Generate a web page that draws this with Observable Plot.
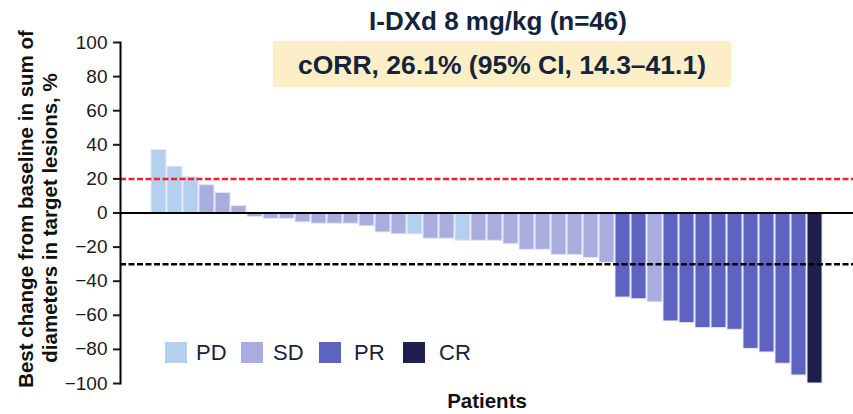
<!DOCTYPE html>
<html>
<head>
<meta charset="utf-8">
<script src="https://cdn.jsdelivr.net/npm/d3@7"></script>
<script src="https://cdn.jsdelivr.net/npm/@observablehq/plot@0.6"></script>
<style>
  html, body { margin: 0; padding: 0; background: #fff; }
  #wrap { position: relative; width: 853px; height: 414px; font-family: "Liberation Sans", Arial, sans-serif; color: #15233d; }
  #wrap svg { position: absolute; left: 0; top: 0; }
  .ov { position: absolute; white-space: nowrap; }
</style>
</head>
<body>
<div id="wrap"></div>
<script>
// ---- Data ----
const patients = d3.range(1, 43).map(i => "P" + i);
const bestChange = [37, 27.2, 21, 16.3, 11.8, 4.1, -2.4, -3.4, -3.4, -5.5, -6.3, -6.3, -6.3, -7.8,
  -11.4, -12.5, -12.5, -15.1, -15.1, -16.3, -16.3, -16.3, -18.3, -21.6, -21.6, -24.6, -24.6, -26.4, -29.2,
  -49.6, -50.6, -52.4, -63.6, -64.6, -67.5, -67.5, -68.5, -79.7, -81.8, -88.4, -95.3, -100];
const response = ["PD","PD","PD","SD","SD","SD","SD","SD","SD","SD","SD","SD","SD","SD",
  "SD","SD","PD","SD","SD","PD","SD","SD","SD","SD","SD","SD","SD","SD","SD",
  "PR","PR","SD","PR","PR","PR","PR","PR","PR","PR","PR","PR","CR"];
const categories = ["PD", "SD", "PR", "CR"];
const colors = ["#b5d0ef", "#a9acdf", "#5d63bf", "#1f1f4d"];
const yTicks = [-100, -80, -60, -40, -20, 0, 20, 40, 60, 80, 100];
const progressionLine = [20];
const responseLine = [-30];
const titleText = "I-DXd 8 mg/kg (n=46)";
const subtitleText = "cORR, 26.1% (95% CI, 14.3\u201341.1)";
const yLabelLines = ["Best change from baseline in sum of", "diameters in target lesions, %"];
const xLabel = "Patients";

const rows = patients.map((p, i) => ({patient: p, value: bestChange[i], resp: response[i]}));

const chart = Plot.plot({
  width: 853,
  height: 414,
  marginLeft: 120,
  marginRight: 0,
  marginTop: 42,
  marginBottom: 31,
  style: {fontFamily: "Liberation Sans, Arial, sans-serif", fontSize: "19px", color: "#1a1a1a", background: "transparent"},
  x: {domain: patients, padding: 0.08, insetLeft: 27, insetRight: 28, axis: null},
  y: {domain: [-100, 100]},
  color: {domain: categories, range: colors},
  marks: [
    Plot.barY(rows, {x: "patient", y: "value", fill: "resp", stroke: "#e4e7f7", strokeWidth: 1}),
    Plot.ruleY([0], {stroke: "#000", strokeWidth: 2}),
    Plot.ruleY(progressionLine, {stroke: "#f5212a", strokeWidth: 2.5, strokeDasharray: "6,2.5"}),
    Plot.ruleY(responseLine, {stroke: "#000", strokeWidth: 2.5, strokeDasharray: "6,2.5"}),
    Plot.frame({anchor: "left", stroke: "#000", strokeWidth: 2}),
    Plot.axisY({ticks: yTicks, tickSize: 7, tickPadding: 6, strokeWidth: 2, label: null, tickFormat: d3.format("")})
  ]
});

const wrap = document.getElementById("wrap");
wrap.appendChild(chart);

function ov(text, css) {
  const d = document.createElement("div");
  d.className = "ov";
  d.textContent = text;
  Object.assign(d.style, css);
  wrap.appendChild(d);
  return d;
}

// Title
ov(titleText, {left: "198px", top: "8px", width: "600px", textAlign: "center", fontSize: "26px", lineHeight: "26px", fontWeight: "bold"});
// Subtitle box
ov(subtitleText, {left: "273px", top: "41px", width: "458px", height: "46px", boxSizing: "border-box", paddingTop: "2px",
  background: "#fcefc8", textAlign: "center", fontSize: "26.5px", lineHeight: "44px", fontWeight: "bold"});
// Y label (rotated)
const yLabCenters = [[26, 209], [50, 218]];
yLabelLines.forEach((t, i) => {
  const [cx, cy] = yLabCenters[i];
  ov(t, {left: (cx - 200) + "px", top: (cy - 12) + "px", width: "400px", height: "24px", lineHeight: "24px",
    textAlign: "center", fontSize: "20.5px", fontWeight: "bold", color: "#111", transform: "rotate(-90deg)"});
});
// X label
ov(xLabel, {left: "387px", top: "389px", width: "200px", textAlign: "center", fontSize: "20.5px", lineHeight: "24px", fontWeight: "bold", color: "#111"});
// Legend
const legendPos = [[165, 196], [241, 273], [319, 354], [403, 439]];
categories.forEach((c, i) => {
  const [sx, tx] = legendPos[i];
  const sq = document.createElement("div");
  Object.assign(sq.style, {position: "absolute", left: sx + "px", top: "342px", width: "22px", height: "21px", background: colors[i]});
  wrap.appendChild(sq);
  ov(c, {left: tx + "px", top: "340px", fontSize: "22px", lineHeight: "26px", color: "#15233d"});
});
</script>
</body>
</html>
